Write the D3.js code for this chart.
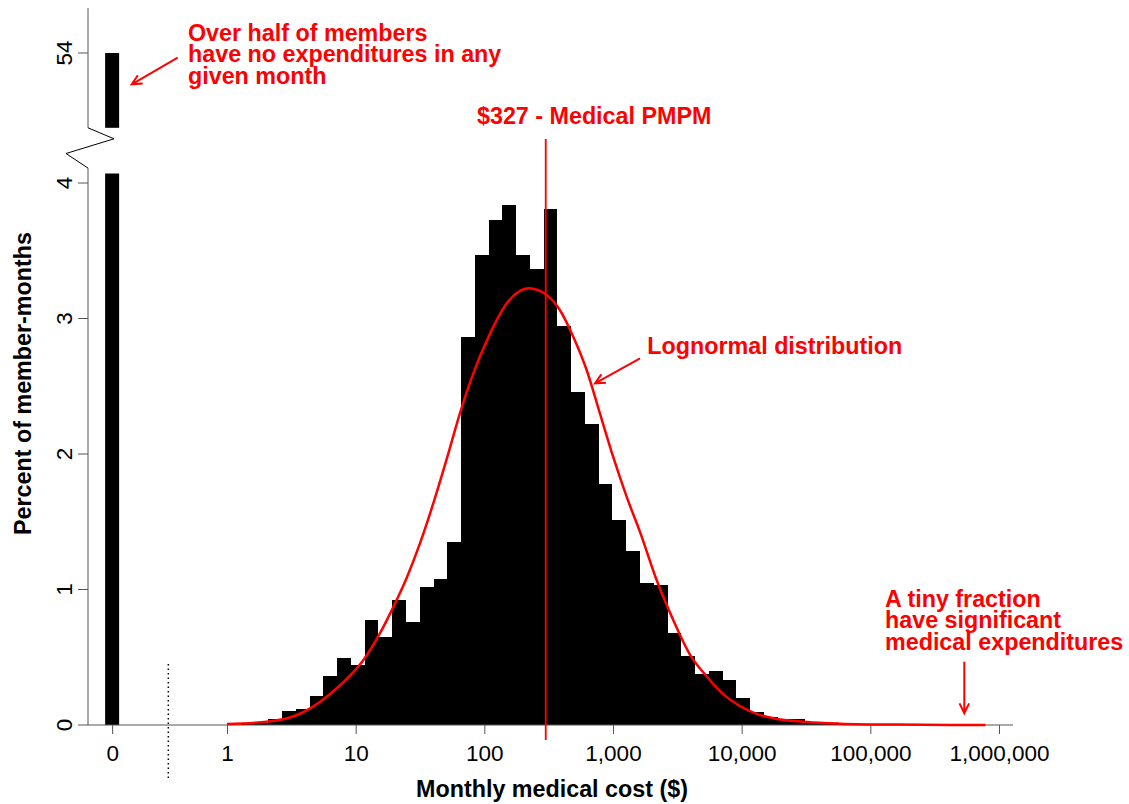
<!DOCTYPE html>
<html>
<head>
<meta charset="utf-8">
<script src="https://cdn.jsdelivr.net/npm/d3@7"></script>
<style>
  body { margin: 0; background: #fff; }
  svg { display: block; font-family: "Liberation Sans", Arial, Helvetica, sans-serif; }
</style>
</head>
<body>
<div id="chart"></div>
<script>
// share of member-months with $0 spend (broken axis, upper panel)
var zeroShare = 54.0
// lower panel only shows up to this value for the zero bar
var zeroClip = 4.07

// histogram of log(cost): bins start at $1, each 0.107 of a decade wide
var binStartCost = 1
var binStepLog10 = 0.107
var binPct = [0.003, 0.006, 0.012, 0.042, 0.103, 0.118, 0.215, 0.363, 0.495, 0.443,
              0.778, 0.646, 0.925, 0.762, 1.02, 1.08, 1.347, 2.862, 3.469, 3.727,
              3.84, 3.469, 3.368, 3.81, 2.947, 2.459, 2.222, 1.778, 1.513, 1.284,
              1.05, 1.033, 0.681, 0.509, 0.376, 0.401, 0.332, 0.202, 0.096, 0.061,
              0.045, 0.043, 0.018, 0.013, 0.008, 0.006, 0.005, 0.004, 0.003, 0.003, 0.002]

// lognormal fit
var curveCost = [1, 2.1, 3.5, 5.3, 7.6, 11.5, 15.5, 19.6, 24.9, 31.6, 40.1, 50.9, 64.6, 79.6,
                 111, 149, 222, 305, 386, 491, 624, 791, 1002, 1276, 1618, 2183, 2938,
                 3963, 5333, 7178, 9683, 13060, 17580, 31920, 57940, 158000, 785000]
var curvePct = [0.007, 0.025, 0.074, 0.172, 0.295, 0.48, 0.68, 0.87, 1.085, 1.34, 1.635, 1.96, 2.30, 2.56,
                2.89, 3.11, 3.223, 3.173, 3.063, 2.866, 2.62, 2.30, 1.98, 1.685, 1.427, 1.07, 0.775,
                0.52, 0.36, 0.228, 0.14, 0.082, 0.05, 0.022, 0.01, 0.003, 0.0]

var xTicks = [1, 10, 100, 1000, 10000, 100000, 1000000]
var yTicksLow = [0, 1, 2, 3, 4]
var yTicksHigh = [54]
var zeroSlot = 0.128      // where the "0" category sits on the log axis
var dividerSlot = 0.35    // dotted separator between 0 and the log part
var pmpm = 327
var pmpmLineAt = 300

var width = 1129, height = 804
var red = "#ff0000", axisCol = "#555"
var boldFont = "23.3px"

var svg = d3.select("#chart").append("svg")
    .attr("width", width).attr("height", height)

var x = d3.scaleLog().domain([1, 1e6]).range([227, 999])
var yLow = d3.scaleLinear().domain([0, 4]).range([725, 183])
var yHigh = d3.scaleLinear().domain([53, 54]).range([189, 53])
var axisX = 88
var lowTop = 4.11, highBottom = 53.45, highTop = 54.33

// bars
var bins = binPct.map(function(v, i) {
    return {
        lo: binStartCost * Math.pow(10, i * binStepLog10),
        hi: binStartCost * Math.pow(10, (i + 1) * binStepLog10),
        v: v
    }
})

svg.append("g").selectAll("rect")
    .data(bins)
    .enter().append("rect")
    .attr("x", function(d) { return x(d.lo) })
    .attr("width", function(d) { return x(d.hi) - x(d.lo) })
    .attr("y", function(d) { return yLow(d.v) })
    .attr("height", function(d) { return yLow(0) - yLow(d.v) })
    .attr("fill", "black")
    .attr("shape-rendering", "crispEdges")

// zero bar, split across the break
var zx = x(zeroSlot)
svg.append("rect")
    .attr("x", zx - 7).attr("width", 14)
    .attr("y", yLow(zeroClip)).attr("height", yLow(0) - yLow(zeroClip))
    .attr("fill", "black")
svg.append("rect")
    .attr("x", zx - 7).attr("width", 14)
    .attr("y", yHigh(zeroShare)).attr("height", yHigh(highBottom) - yHigh(zeroShare))
    .attr("fill", "black")

// x axis
svg.append("line")
    .attr("x1", axisX).attr("x2", 1013)
    .attr("y1", yLow(0)).attr("y2", yLow(0))
    .attr("stroke", axisCol)

var xAxis = d3.axisBottom(x)
    .tickValues([zeroSlot].concat(xTicks))
    .tickFormat(function(d) { return d === zeroSlot ? "0" : d3.format(",")(d) })
    .tickSize(9).tickPadding(11)
var gx = svg.append("g")
    .attr("transform", "translate(0," + yLow(0) + ")")
    .call(xAxis)
gx.select(".domain").remove()
gx.selectAll("line").attr("stroke", axisCol)
gx.selectAll("text")
    .attr("fill", "black")
    .style("font-size", "22.5px")

// dotted divider
svg.append("line")
    .attr("x1", x(dividerSlot)).attr("x2", x(dividerSlot))
    .attr("y1", 664).attr("y2", 780)
    .attr("stroke", "black").attr("stroke-width", 1.5)
    .attr("stroke-dasharray", "1.5,3")

// y axes (lower + upper)
function yAxisPart(scale, ticks, top, bottom) {
    var g = svg.append("g").attr("transform", "translate(" + axisX + ",0)")
    g.append("line")
        .attr("x1", 0).attr("x2", 0)
        .attr("y1", scale(top)).attr("y2", scale(bottom))
        .attr("stroke", axisCol)
    var tk = g.selectAll(".tk").data(ticks).enter().append("g")
        .attr("transform", function(d) { return "translate(0," + scale(d) + ")" })
    tk.append("line").attr("x1", -10).attr("x2", 0).attr("stroke", axisCol)
    tk.append("text")
        .attr("transform", "translate(-16,0) rotate(-90)")
        .attr("text-anchor", "middle")
        .style("font-size", "22.5px")
        .text(function(d) { return d })
}
yAxisPart(yLow, yTicksLow, lowTop, 0)
yAxisPart(yHigh, yTicksHigh, highTop, highBottom)

// break zigzag
var zy1 = yHigh(highBottom), zy2 = yLow(lowTop)
svg.append("path")
    .attr("d", d3.line()([[axisX, zy1], [axisX + 26, zy1 + 11], [axisX - 22, zy1 + 25.7], [axisX, zy2]]))
    .attr("fill", "none").attr("stroke", "black").attr("stroke-width", 1)

// lognormal curve
var curve = d3.line()
    .x(function(d) { return x(d[0]) })
    .y(function(d) { return yLow(d[1]) })
    .curve(d3.curveMonotoneX)
svg.append("path")
    .attr("d", curve(d3.zip(curveCost, curvePct)))
    .attr("fill", "none").attr("stroke", red).attr("stroke-width", 2.5)

// PMPM line
svg.append("line")
    .attr("x1", x(pmpmLineAt)).attr("x2", x(pmpmLineAt))
    .attr("y1", 139).attr("y2", 740)
    .attr("stroke", red).attr("stroke-width", 1.8)

// axis titles
svg.append("text")
    .attr("x", 552).attr("y", 797)
    .attr("text-anchor", "middle")
    .style("font-size", boldFont).style("font-weight", "bold")
    .text("Monthly medical cost ($)")
svg.append("text")
    .attr("transform", "translate(31,383.5) rotate(-90)")
    .attr("text-anchor", "middle")
    .style("font-size", boldFont).style("font-weight", "bold")
    .text("Percent of member-months")

// annotations
function note(lines, x0, y0) {
    svg.append("g").selectAll("text").data(lines).enter().append("text")
        .attr("x", x0).attr("y", function(d, i) { return y0 + i * 21.3 })
        .attr("fill", red)
        .style("font-size", boldFont).style("font-weight", "bold")
        .text(function(d) { return d })
}
function arrow(x1, y1, x2, y2) {
    var a = Math.atan2(y2 - y1, x2 - x1), L = 11, s = 0.45
    svg.append("path")
        .attr("d", "M" + x1 + "," + y1 + "L" + x2 + "," + y2 +
            "M" + (x2 - L * Math.cos(a - s)) + "," + (y2 - L * Math.sin(a - s)) +
            "L" + x2 + "," + y2 +
            "L" + (x2 - L * Math.cos(a + s)) + "," + (y2 - L * Math.sin(a + s)))
        .attr("fill", "none").attr("stroke", red).attr("stroke-width", 2)
}

note(["Over half of members", "have no expenditures in any", "given month"], 188, 41)
arrow(177.7, 57.7, 131.7, 84.3)

note(["$" + pmpm + " - Medical PMPM"], 477, 124.3)

note(["Lognormal distribution"], 647.3, 354)
arrow(640, 358.3, 595, 383.3)

note(["A tiny fraction", "have significant", "medical expenditures"], 885, 607)
arrow(964.3, 661.7, 964.3, 713.3)
</script>
</body>
</html>
